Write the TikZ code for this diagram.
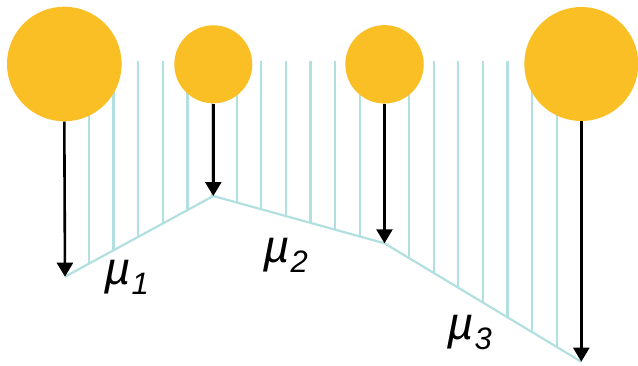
\documentclass[tikz,border=0pt]{standalone}
\usepackage{fontspec}
\setmainfont{Liberation Sans}
\usetikzlibrary{arrows.meta}
\definecolor{ballfill}{HTML}{FBBF26}
\definecolor{hatchblue}{HTML}{B2DFE0}
\tikzset{
  ball/.style={circle, fill=ballfill, inner sep=0pt, minimum size=#1},
  hatch/.style={hatchblue, line width=2.2pt},
  drop/.style={line width=2.6pt, -{Triangle[length=14pt,width=16pt]}},
  mu/.style={inner sep=0pt, anchor=base west, font=\fontsize{46}{46}\selectfont\itshape}
}
\newcommand{\musub}[1]{\textmu\kern1pt\raisebox{-10pt}{\fontsize{31}{31}\selectfont #1}}
\begin{document}
\begin{tikzpicture}[x=1pt, y=-1pt]
  \useasboundingbox (0,0) rectangle (638,365);

  % lowest points of the chain
  \coordinate (p1) at (65,276.7);
  \coordinate (p2) at (213.3,196);
  \coordinate (p3) at (384.5,243.3);
  \coordinate (p4) at (581.3,361.7);

  % vertical hatching above the chain
  \begin{scope}
    \clip (64.3,61) -- (581.3,61) -- (p4) -- (p3) -- (p2) -- (p1) -- cycle;
    \foreach \k in {1,...,20}
      \draw[hatch] ({64.3+24.62*\k},61) -- ++(0,320);
  \end{scope}
  \draw[hatch, line join=round] (p1) -- (p2) -- (p3) -- (p4);

  % the four balls
  \node[ball=114.6pt] (c1) at (64.3,64) {};
  \node[ball=78pt]    (c2) at (213.3,64.3) {};
  \node[ball=78.4pt]  (c3) at (384.5,64.3) {};
  \node[ball=114pt]   (c4) at (581.3,64) {};

  % weights pulling down
  \draw[drop] (c1.south) -- (p1);
  \draw[drop] (c2.south) -- (p2);
  \draw[drop] (c3.south) -- (p3);
  \draw[drop] (c4.south) -- (p4);

  % labels
  \node[mu] (m1) at (104,284) {\musub{1}};
  \node[mu] (m2) at (263,262) {\musub{2}};
  \node[mu] (m3) at (447,339) {\musub{3}};
\end{tikzpicture}
\end{document}
